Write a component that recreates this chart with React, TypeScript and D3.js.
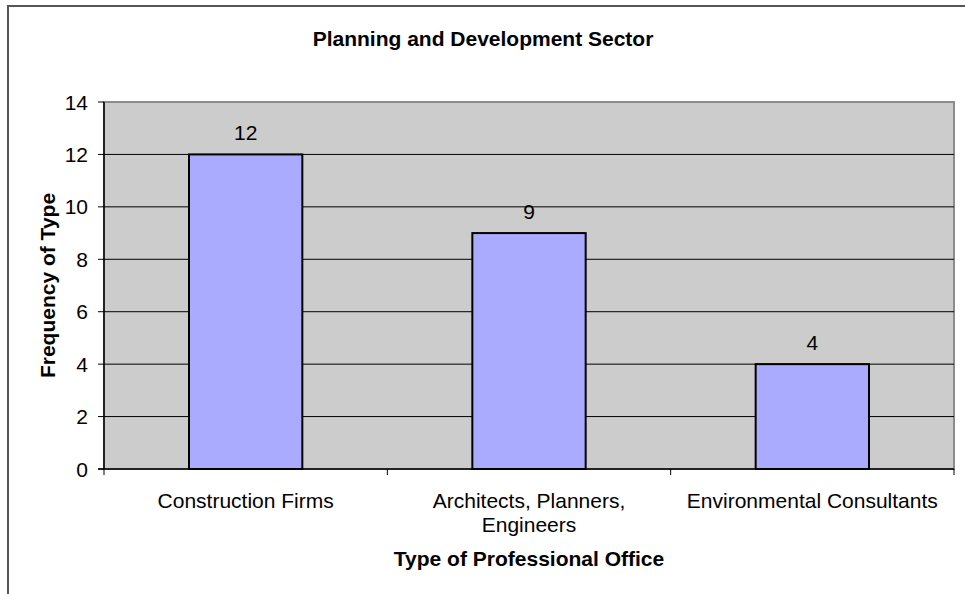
import React from "react";
import * as d3 from "d3";

const categories: string[][] = [
  ["Construction Firms"],
  ["Architects, Planners,", "Engineers"],
  ["Environmental Consultants"],
];
const values: number[] = [12, 9, 4];
const yTicks: number[] = [0, 2, 4, 6, 8, 10, 12, 14];
const title = "Planning and Development Sector";
const xTitle = "Type of Professional Office";
const yTitle = "Frequency of Type";

const W = 965;
const H = 594;
const plot = { left: 104, right: 954, top: 102, bottom: 469 };
const font = "Arial, 'Liberation Sans', sans-serif";
const FS = 21;

export default function App() {
  const x = d3
    .scaleBand<number>()
    .domain(categories.map((_, i) => i))
    .range([plot.left, plot.right])
    .paddingInner(0.6)
    .paddingOuter(0.3);
  const band = d3
    .scaleBand<number>()
    .domain(categories.map((_, i) => i))
    .range([plot.left, plot.right]);
  const y = d3.scaleLinear().domain([0, 14]).range([plot.bottom, plot.top]);

  return (
    <svg
      width={W}
      height={H}
      style={{ position: "absolute", left: 0, top: 0, background: "#fff" }}
      fontFamily={font}
    >
      {/* outer chart border */}
      <rect x={8} y={6} width={W + 20} height={H + 20} fill="#fff" stroke="#555" strokeWidth={2} />
      {/* plot area */}
      <rect
        x={plot.left}
        y={plot.top}
        width={plot.right - plot.left}
        height={plot.bottom - plot.top}
        fill="#cccccc"
        stroke="#8c8c8c"
        strokeWidth={2}
      />
      {/* gridlines */}
      {yTicks
        .filter((t) => t > 0 && t < 14)
        .map((t) => (
          <line key={t} x1={plot.left} x2={plot.right} y1={y(t)} y2={y(t)} stroke="#000" strokeWidth={1} />
        ))}
      {/* bars */}
      {values.map((v, i) => (
        <rect
          key={i}
          x={x(i)}
          y={y(v)}
          width={x.bandwidth()}
          height={y(0) - y(v)}
          fill="#aaaaff"
          stroke="#000"
          strokeWidth={2}
        />
      ))}
      {/* data labels */}
      {values.map((v, i) => (
        <text
          key={i}
          x={(x(i) as number) + x.bandwidth() / 2}
          y={y(v) - 14}
          textAnchor="middle"
          fontSize={FS}
          fill="#000"
        >
          {v}
        </text>
      ))}
      {/* y axis */}
      <line x1={plot.left} x2={plot.left} y1={plot.top} y2={plot.bottom} stroke="#000" strokeWidth={1.5} />
      {yTicks.map((t) => (
        <g key={t}>
          <line x1={plot.left - 6} x2={plot.left} y1={y(t)} y2={y(t)} stroke="#000" strokeWidth={1} />
          <text x={plot.left - 16} y={y(t) + 7.5} textAnchor="end" fontSize={FS} fill="#000">
            {t}
          </text>
        </g>
      ))}
      {/* x axis */}
      <line x1={plot.left - 6} x2={plot.right} y1={plot.bottom} y2={plot.bottom} stroke="#000" strokeWidth={1.5} />
      {categories.map((_, i) => (
        <line
          key={i}
          x1={(band(i) as number) + band.bandwidth()}
          x2={(band(i) as number) + band.bandwidth()}
          y1={plot.bottom}
          y2={plot.bottom + 6}
          stroke="#000"
          strokeWidth={1}
        />
      ))}
      <line x1={plot.left} x2={plot.left} y1={plot.bottom} y2={plot.bottom + 6} stroke="#000" strokeWidth={1} />
      {categories.map((lines, i) => (
        <text
          key={i}
          x={(band(i) as number) + band.bandwidth() / 2}
          y={508}
          textAnchor="middle"
          fontSize={FS}
          fill="#000"
        >
          {lines.map((l, j) => (
            <tspan key={j} x={(band(i) as number) + band.bandwidth() / 2} dy={j === 0 ? 0 : 24}>
              {l}
            </tspan>
          ))}
        </text>
      ))}
      {/* titles */}
      <text x={483} y={46} textAnchor="middle" fontSize={FS} fontWeight="bold" fill="#000">
        {title}
      </text>
      <text x={(plot.left + plot.right) / 2} y={566} textAnchor="middle" fontSize={FS} fontWeight="bold" fill="#000">
        {xTitle}
      </text>
      <text
        transform={`translate(55, ${(plot.top + plot.bottom) / 2}) rotate(-90)`}
        textAnchor="middle"
        fontSize={FS}
        fontWeight="bold"
        fill="#000"
      >
        {yTitle}
      </text>
    </svg>
  );
}
